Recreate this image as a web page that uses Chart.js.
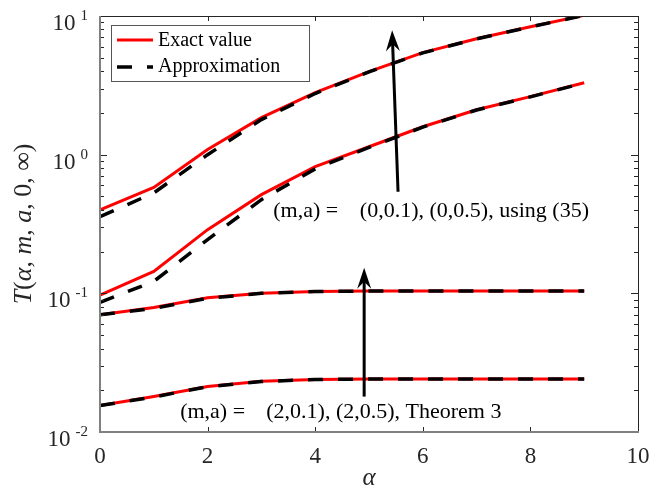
<!DOCTYPE html>
<html>
<head>
<meta charset="utf-8">
<script src="https://cdn.jsdelivr.net/npm/chart.js@4"></script>
<style>
  html, body { margin: 0; padding: 0; background: #fff; }
  #chart { display: block; }
</style>
</head>
<body>
<canvas id="chart" width="663" height="492"></canvas>
<script>
// alpha values (x axis)
const alphaVals = [0, 1, 2, 3, 4, 5, 6, 7, 8, 9];

// (m,a) = (0,0.5)
const exactM0a05 = [0.40, 0.58, 1.09, 1.85, 2.80, 3.97, 5.44, 6.86, 8.37, 10.1];
const approxM0a05 = [0.357, 0.53, 1.00, 1.79, 2.76, 3.95, 5.42, 6.84, 8.35, 10.1];

// (m,a) = (0,0.1)
const exactM0a01 = [0.097, 0.144, 0.288, 0.515, 0.82, 1.14, 1.59, 2.11, 2.62, 3.30];
const approxM0a01 = [0.086, 0.122, 0.244, 0.474, 0.79, 1.13, 1.58, 2.10, 2.61, 3.29];

// (m,a) = (2,0.5)
const exactM2a05 = [0.070, 0.079, 0.093, 0.100, 0.103, 0.104, 0.104, 0.104, 0.104, 0.104];
const approxM2a05 = [0.070, 0.078, 0.092, 0.100, 0.103, 0.104, 0.104, 0.104, 0.104, 0.104];

// (m,a) = (2,0.1)
const exactM2a01 = [0.0155, 0.0180, 0.0213, 0.0232, 0.0239, 0.0241, 0.0241, 0.0241, 0.0241, 0.0241];
const approxM2a01 = [0.0155, 0.0179, 0.0212, 0.0231, 0.0239, 0.0241, 0.0241, 0.0241, 0.0241, 0.0241];

// axis ticks
const xTicks = [0, 2, 4, 6, 8, 10];
const yExponents = [-2, -1, 0, 1];

const SERIF = '"Liberation Serif", "DejaVu Serif", serif';

// annotations, placed in data coordinates
const notes = [
    { x: 3.22, y: 0.357, text: '(m,a) =' },
    { x: 4.83, y: 0.357, text: '(0,0.1), (0,0.5), using (35)' },
    { x: 1.49, y: 0.0127, text: '(m,a) =' },
    { x: 3.09, y: 0.0127, text: '(2,0.1), (2,0.5), Theorem 3' }
];
const arrows = [
    { x0: 5.54, y0: 0.54, x1: 5.43, y1: 7.9 },
    { x0: 4.91, y0: 0.018, x1: 4.91, y1: 0.153 }
];

function pts(ys) {
    return alphaVals.map((a, i) => ({ x: a, y: ys[i] }));
}

function exactSet(ys) {
    return { label: 'Exact value', data: pts(ys), borderColor: '#ff0000', borderWidth: 3,
             pointRadius: 0, tension: 0, fill: false, order: 1 };
}
function approxSet(ys) {
    return { label: 'Approximation', data: pts(ys), borderColor: '#000000', borderWidth: 3.5,
             borderDash: [15, 15], pointRadius: 0, tension: 0, fill: false, order: 0 };
}

// frame, ticks, labels, legend and notes
const decorPlugin = {
    id: 'decor',
    afterDraw(chart) {
        const ctx = chart.ctx;
        const a = chart.chartArea;
        const xs = chart.scales.x, ys = chart.scales.y;
        ctx.save();

        // ticks
        ctx.strokeStyle = '#262626';
        ctx.lineWidth = 1;
        ctx.beginPath();
        xTicks.forEach(t => {
            const px = Math.round(xs.getPixelForValue(t)) + 0.5;
            ctx.moveTo(px, a.bottom); ctx.lineTo(px, a.bottom - 5);
            ctx.moveTo(px, a.top); ctx.lineTo(px, a.top + 5);
        });
        for (let e = -2; e <= 0; e++) {
            for (let m = 1; m <= 9; m++) {
                const v = m * Math.pow(10, e);
                const py = Math.round(ys.getPixelForValue(v)) + 0.5;
                const len = m === 1 ? 7 : 4;
                ctx.moveTo(a.left, py); ctx.lineTo(a.left + len, py);
                ctx.moveTo(a.right, py); ctx.lineTo(a.right - len, py);
            }
        }
        ctx.stroke();

        // frame
        ctx.strokeStyle = '#262626';
        ctx.beginPath();
        ctx.moveTo(a.left, a.top + 0.5); ctx.lineTo(a.right + 0.5, a.top + 0.5);
        ctx.lineTo(a.right + 0.5, a.bottom);
        ctx.stroke();
        ctx.strokeStyle = '#808080';
        ctx.lineWidth = 2;
        ctx.beginPath();
        ctx.moveTo(a.left, a.top); ctx.lineTo(a.left, a.bottom); ctx.lineTo(a.right + 1, a.bottom);
        ctx.stroke();

        // x tick labels
        ctx.fillStyle = '#262626';
        ctx.font = '23px ' + SERIF;
        ctx.textAlign = 'center';
        ctx.textBaseline = 'alphabetic';
        xTicks.forEach(t => ctx.fillText(String(t), xs.getPixelForValue(t), a.bottom + 31));

        // y tick labels 10^e
        yExponents.forEach(e => {
            const py = ys.getPixelForValue(Math.pow(10, e));
            ctx.font = '15px ' + SERIF;
            const sup = String(e);
            const wSup = ctx.measureText(sup).width;
            ctx.textAlign = 'left';
            ctx.fillText(sup, 88 - wSup, py + 4);
            ctx.font = '23px ' + SERIF;
            ctx.textAlign = 'right';
            ctx.fillText('10', 88 - wSup - 5, py + 14);
        });

        // x axis title
        ctx.fillStyle = '#262626';
        ctx.font = 'italic 25px ' + SERIF;
        ctx.textAlign = 'center';
        ctx.fillText('\u03b1', (a.left + a.right) / 2, 485);

        // y axis title, rotated
        const parts = [
            ['italic', 'T'], ['normal', '('], ['italic', '\u03b1'], ['normal', ', '],
            ['italic', 'm'], ['normal', ', '], ['italic', 'a'], ['normal', ', 0, \u221e)']
        ];
        ctx.save();
        ctx.translate(31, (a.top + a.bottom) / 2);
        ctx.rotate(-Math.PI / 2);
        let total = 0;
        parts.forEach(p => { ctx.font = p[0] + ' 26px ' + SERIF; total += ctx.measureText(p[1]).width; });
        let cx = -total / 2;
        ctx.textAlign = 'left';
        parts.forEach(p => {
            ctx.font = p[0] + ' 26px ' + SERIF;
            ctx.fillText(p[1], cx, 0);
            cx += ctx.measureText(p[1]).width;
        });
        ctx.restore();

        // arrows
        ctx.strokeStyle = '#000';
        ctx.fillStyle = '#000';
        ctx.lineWidth = 3;
        arrows.forEach(ar => {
            const x0 = xs.getPixelForValue(ar.x0), y0 = ys.getPixelForValue(ar.y0);
            const x1 = xs.getPixelForValue(ar.x1), y1 = ys.getPixelForValue(ar.y1);
            const ang = Math.atan2(y1 - y0, x1 - x0);
            const ux = Math.cos(ang), uy = Math.sin(ang);
            ctx.beginPath();
            ctx.moveTo(x0, y0);
            ctx.lineTo(x1 - ux * 12, y1 - uy * 12);
            ctx.stroke();
            ctx.beginPath();
            ctx.moveTo(x1, y1);
            ctx.lineTo(x1 - ux * 21 - uy * 7, y1 - uy * 21 + ux * 7);
            ctx.lineTo(x1 - ux * 14, y1 - uy * 14);
            ctx.lineTo(x1 - ux * 21 + uy * 7, y1 - uy * 21 - ux * 7);
            ctx.closePath();
            ctx.fill();
        });

        // notes
        ctx.fillStyle = '#000';
        ctx.font = '22px ' + SERIF;
        ctx.textAlign = 'left';
        notes.forEach(n => ctx.fillText(n.text, xs.getPixelForValue(n.x), ys.getPixelForValue(n.y)));

        // legend
        ctx.fillStyle = '#fff';
        ctx.fillRect(112, 26, 197, 55);
        ctx.strokeStyle = '#555';
        ctx.lineWidth = 1;
        ctx.strokeRect(111.5, 25.5, 198, 56);
        ctx.lineWidth = 3;
        ctx.strokeStyle = '#ff0000';
        ctx.beginPath(); ctx.moveTo(117, 40); ctx.lineTo(153, 40); ctx.stroke();
        ctx.lineWidth = 3.5;
        ctx.strokeStyle = '#000';
        ctx.setLineDash([15, 15]);
        ctx.beginPath(); ctx.moveTo(117, 67); ctx.lineTo(153, 67); ctx.stroke();
        ctx.setLineDash([]);
        ctx.fillStyle = '#000';
        ctx.font = '20px ' + SERIF;
        ctx.textBaseline = 'middle';
        ctx.fillText('Exact value', 158, 41);
        ctx.fillText('Approximation', 158, 67);

        ctx.restore();
    }
};

new Chart(document.getElementById('chart'), {
    type: 'line',
    data: {
        datasets: [
            exactSet(exactM0a05), approxSet(approxM0a05),
            exactSet(exactM0a01), approxSet(approxM0a01),
            exactSet(exactM2a05), approxSet(approxM2a05),
            exactSet(exactM2a01), approxSet(approxM2a01)
        ]
    },
    options: {
        responsive: false,
        animation: false,
        devicePixelRatio: 1,
        layout: { padding: { left: 100, top: 16, right: 25, bottom: 60 } },
        plugins: { legend: { display: false }, tooltip: { enabled: false } },
        scales: {
            x: {
                type: 'linear', min: 0, max: 10,
                grid: { display: false }, border: { display: false },
                ticks: { display: false },
                afterFit: s => { s.height = 0; }
            },
            y: {
                type: 'logarithmic', min: 0.01, max: 10,
                grid: { display: false }, border: { display: false },
                ticks: { display: false },
                afterFit: s => { s.width = 0; }
            }
        }
    },
    plugins: [decorPlugin]
});
</script>
</body>
</html>
